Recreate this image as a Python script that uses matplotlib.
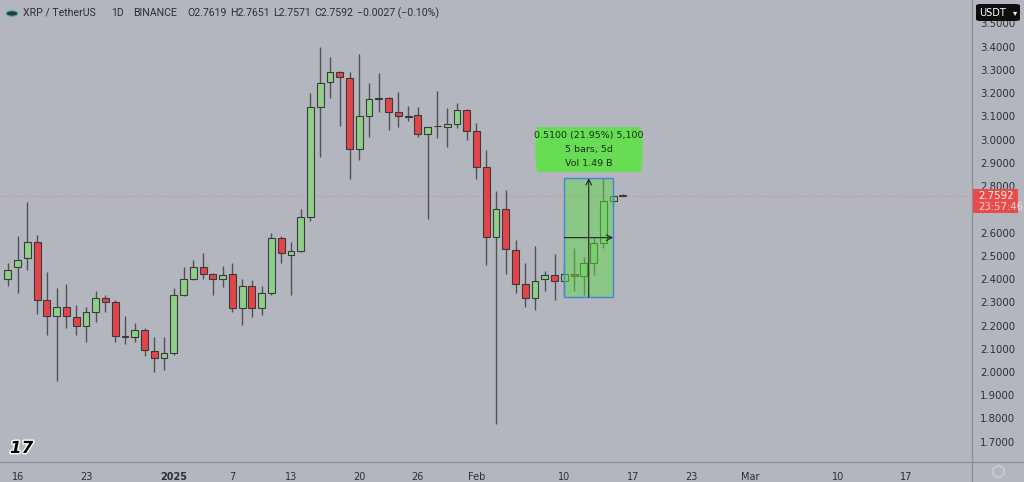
import matplotlib
matplotlib.use("Agg")
import matplotlib.pyplot as plt
import matplotlib.dates as mdates
import matplotlib.patheffects as pe
from matplotlib.patches import Rectangle, FancyBboxPatch
import numpy as np
import pandas as pd

# ---------------- data ----------------
dates = pd.date_range("2024-12-15", periods=64, freq="D")
opens = [2.40, 2.45, 2.49, 2.56, 2.31, 2.24, 2.28, 2.236, 2.20, 2.26,
         2.32, 2.30, 2.155, 2.15, 2.18, 2.09, 2.06, 2.08, 2.33, 2.40,
         2.45, 2.42, 2.40, 2.42, 2.275, 2.37, 2.275, 2.34, 2.575, 2.505,
         2.52, 2.665, 3.14, 3.248, 3.29, 3.265, 2.96, 3.10, 3.175, 3.18,
         3.12, 3.10, 3.105, 3.025, 3.058, 3.055, 3.067, 3.127, 3.036, 2.88,
         2.58, 2.70, 2.525, 2.38, 2.32, 2.40, 2.417, 2.39, 2.42, 2.413,
         2.47, 2.555, 2.737, 2.7619]
highs = [2.47, 2.585, 2.73, 2.59, 2.43, 2.36, 2.38, 2.29, 2.28, 2.35,
         2.33, 2.31, 2.24, 2.21, 2.19, 2.15, 2.15, 2.36, 2.45, 2.48,
         2.51, 2.425, 2.455, 2.47, 2.40, 2.395, 2.37, 2.60, 2.585, 2.56,
         2.70, 3.20, 3.40, 3.355, 3.295, 3.29, 3.37, 3.245, 3.285, 3.185,
         3.205, 3.145, 3.14, 3.055, 3.21, 3.135, 3.157, 3.13, 3.07, 2.955,
         2.78, 2.785, 2.57, 2.47, 2.54, 2.435, 2.507, 2.47, 2.533, 2.494,
         2.58, 2.834, 2.765, 2.7651]
lows = [2.37, 2.34, 2.44, 2.25, 2.16, 1.96, 2.19, 2.16, 2.13, 2.215,
        2.26, 2.13, 2.12, 2.13, 2.07, 2.00, 2.01, 2.075, 2.325, 2.395,
        2.40, 2.33, 2.366, 2.26, 2.20, 2.236, 2.245, 2.33, 2.47, 2.33,
        2.515, 2.65, 2.925, 3.18, 3.06, 2.83, 2.91, 3.01, 3.12, 3.04,
        3.055, 3.08, 3.01, 2.66, 3.005, 2.97, 3.05, 3.00, 2.83, 2.46,
        1.775, 2.42, 2.34, 2.28, 2.265, 2.35, 2.31, 2.33, 2.35, 2.33,
        2.417, 2.533, 2.713, 2.7571]
closes = [2.44, 2.48, 2.56, 2.31, 2.24, 2.28, 2.24, 2.20, 2.26, 2.32,
          2.30, 2.155, 2.15, 2.18, 2.095, 2.06, 2.08, 2.33, 2.40, 2.45,
          2.42, 2.40, 2.417, 2.275, 2.37, 2.275, 2.34, 2.575, 2.51, 2.52,
          2.665, 3.14, 3.245, 3.29, 3.27, 2.96, 3.10, 3.175, 3.18, 3.12,
          3.10, 3.098, 3.025, 3.055, 3.06, 3.067, 3.127, 3.036, 2.88, 2.58,
          2.70, 2.53, 2.38, 2.32, 2.39, 2.417, 2.39, 2.42, 2.413, 2.468,
          2.555, 2.735, 2.757, 2.7592]

last_price = 2.7592
price_ticks = [1.7, 1.8, 1.9, 2.0, 2.1, 2.2, 2.3, 2.4, 2.5, 2.6,
               2.8, 2.9, 3.0, 3.1, 3.2, 3.3, 3.4, 3.5]
date_ticks = ["2024-12-16", "2024-12-23", "2025-01-01", "2025-01-07",
              "2025-01-13", "2025-01-20", "2025-01-26", "2025-02-01",
              "2025-02-10", "2025-02-17", "2025-02-23", "2025-03-01",
              "2025-03-10", "2025-03-17"]
date_labels = ["16", "23", "2025", "7", "13", "20", "26", "Feb",
               "10", "17", "23", "Mar", "10", "17"]

measure_start, measure_end = "2025-02-10", "2025-02-15"
measure_low, measure_high = 2.322, 2.834
measure_lines = ["0.5100 (21.95%) 5,100", "5 bars, 5d", "Vol 1.49 B"]
header = ["XRP / TetherUS", "1D", "BINANCE", "O2.7619", "H2.7651",
          "L2.7571", "C2.7592", "\u22120.0027 (\u22120.10%)"]

# ---------------- style ----------------
BG = "#b3b6be"
GREEN = "#8fcf89"
RED = "#e3444a"
EDGE = "#3a3a3a"
WICK = "#505050"
TXT = "#2e2e2e"

W, H = 1024, 482
fig = plt.figure(figsize=(W / 100, H / 100), dpi=100, facecolor=BG)

ax_right_px = 972
ax_bottom_px = 462
ax = fig.add_axes([0, (H - ax_bottom_px) / H, ax_right_px / W, ax_bottom_px / H])
ax.set_facecolor(BG)

x = mdates.date2num(dates)
o = np.array(opens); h = np.array(highs); l = np.array(lows); c = np.array(closes)
up = c >= o
colors = np.where(up, GREEN, RED)

ax.vlines(x, l, h, color=WICK, lw=1.0, zorder=2)
body_bottom = np.minimum(o, c)
body_h = np.maximum(np.abs(c - o), 0.002)
ax.bar(x, body_h, bottom=body_bottom, width=0.7, color=colors,
       edgecolor=EDGE, linewidth=0.8, zorder=3)

# axis limits (pixel calibration)
px_per_unit = 232.4
y_top = 1.7 + 441.7 / px_per_unit
y_bot = 1.7 - (ax_bottom_px - 441.7) / px_per_unit
ax.set_ylim(y_bot, y_top)
x0 = mdates.date2num(pd.Timestamp("2024-12-16"))
px_per_day = 9.763
ax.set_xlim(x0 - 17.6 / px_per_day, x0 + (ax_right_px - 17.6) / px_per_day)

for s in ["top", "left", "right", "bottom"]:
    ax.spines[s].set_visible(False)

ax.set_xticks(mdates.date2num(pd.to_datetime(date_ticks)))
ax.set_xticklabels(date_labels)
ax.tick_params(axis="x", length=0, pad=7, labelsize=7, labelcolor=TXT)
for lab in ax.get_xticklabels():
    if lab.get_text() == "2025":
        lab.set_fontweight("bold")

ax.yaxis.tick_right()
ax.set_yticks(price_ticks)
ax.set_yticklabels([f"{v:.4f}" for v in price_ticks])
ax.tick_params(axis="y", length=0, pad=6, labelsize=7.3, labelcolor=TXT)
for lab in ax.get_yticklabels():
    lab.set_horizontalalignment("left")
    lab.set_clip_on(False)

# current price line
ax.axhline(last_price, color="#d98a8a", lw=0.9, ls=(0, (1, 1.5)), zorder=1)

# measurement box
ms = mdates.date2num(pd.Timestamp(measure_start))
me = mdates.date2num(pd.Timestamp(measure_end))
ax.add_patch(Rectangle((ms, measure_low), me - ms, measure_high - measure_low,
                       facecolor="#62d64c", alpha=0.5, edgecolor="none", zorder=4))
ax.add_patch(Rectangle((ms, measure_low), me - ms, measure_high - measure_low,
                       facecolor="none", edgecolor="#4a82e0", lw=1.0, zorder=6))
mid_x = (ms + me) / 2
mid_y = (measure_low + measure_high) / 2
ax.annotate("", xy=(mid_x, measure_high), xytext=(mid_x, measure_low),
            arrowprops=dict(arrowstyle="->", color="#222", lw=0.8,
                            shrinkA=0, shrinkB=0), zorder=7)
ax.annotate("", xy=(me, mid_y), xytext=(ms, mid_y),
            arrowprops=dict(arrowstyle="->", color="#222", lw=0.8,
                            shrinkA=0, shrinkB=0), zorder=7)

# label above the measurement box
lb_x0 = x0 + (535 - 17.6) / px_per_day
lb_x1 = x0 + (643 - 17.6) / px_per_day
lb_y0 = 1.7 + (441.7 - 172) / px_per_unit
lb_y1 = 1.7 + (441.7 - 127) / px_per_unit
ax.add_patch(FancyBboxPatch((lb_x0, lb_y0), lb_x1 - lb_x0, lb_y1 - lb_y0,
                            boxstyle="round,pad=0,rounding_size=0.3",
                            facecolor="#66dd52", edgecolor="none", zorder=8))
lb_cx = (lb_x0 + lb_x1) / 2
for i, t in enumerate(measure_lines):
    yy = 1.7 + (441.7 - (135 + 14 * i)) / px_per_unit
    ax.text(lb_cx, yy, t, ha="center", va="center", fontsize=6.8,
            color="#1e2a1e", zorder=9)

# header
hx = [23, 111, 133, 187, 230, 273, 314, 357]
for xx, t in zip(hx, header):
    fig.text(xx / W, 1 - 13 / H, t, ha="left", va="center", fontsize=7.6,
             color=TXT, family="Roboto")
fig.patches.append(matplotlib.patches.Circle((12 / W, 1 - 13.5 / H), 0.0055,
                   transform=fig.transFigure, facecolor="#333", edgecolor="#3aa",
                   lw=0.8, figure=fig))

# separators
fig.add_artist(plt.Line2D([ax_right_px / W] * 2, [0, 1], color="#8c8f96", lw=1.0))
fig.add_artist(plt.Line2D([0, 1], [(H - ax_bottom_px) / H] * 2, color="#8c8f96", lw=1.0))

# last price tag on the right axis
fig.patches.append(Rectangle((973 / W, 1 - 213 / H), 45 / W, 24 / H,
                             transform=fig.transFigure, facecolor="#e94a4a",
                             edgecolor="none", figure=fig, zorder=10))
fig.text(978 / W, 1 - 196 / H, f"{last_price:.4f}", ha="left", va="center",
         fontsize=7.3, color="white", zorder=11)
fig.text(978 / W, 1 - 206.5 / H, "23:57:46", ha="left", va="center",
         fontsize=7.3, color="#ffd8d8", zorder=11)

# USDT box
fig.patches.append(FancyBboxPatch((976 / W, 1 - 21 / H), 44 / W, 17 / H,
                                  boxstyle="round,pad=0,rounding_size=0.004",
                                  transform=fig.transFigure, facecolor="#0d0d0d",
                                  edgecolor="none", figure=fig, zorder=10))
fig.text(979 / W, 1 - 12.5 / H, "USDT", ha="left", va="center", fontsize=7,
         color="white", zorder=11)
fig.text(1015 / W, 1 - 12.5 / H, "\u25be", ha="center", va="center", fontsize=6,
         color="white", zorder=11)

# TradingView logo and settings icon
fig.text(10 / W, 1 - 448 / H, "17", ha="left", va="center", fontsize=12,
         fontweight="heavy", color="black", fontstyle="italic",
         path_effects=[pe.withStroke(linewidth=2, foreground="white")])
fig.add_artist(plt.Line2D([998 / W], [1 - 471 / H], marker="h", markersize=9,
                          markerfacecolor="none", markeredgecolor="#c8cad0",
                          markeredgewidth=1.2))

fig.savefig("out.png", dpi=100, facecolor=BG)
